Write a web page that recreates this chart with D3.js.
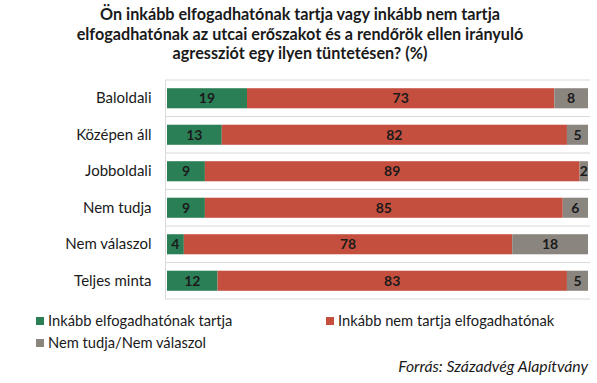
<!DOCTYPE html>
<html><head><meta charset="utf-8">
<script src="https://cdn.jsdelivr.net/npm/d3@7"></script>
<style>body{margin:0;background:#fff;} svg{display:block;}</style>
</head><body>
<svg id="c" width="597" height="383"></svg>
<script>
const categories = ["Baloldali","Középen áll","Jobboldali","Nem tudja","Nem válaszol","Teljes minta"];
const accept = [19,13,9,9,4,12];
const reject = [73,82,89,85,78,83];
const unknown = [8,5,2,6,18,5];
const seriesNames = ["Inkább elfogadhatónak tartja","Inkább nem tartja elfogadhatónak","Nem tudja/Nem válaszol"];
const colors = ["#2b7f57","#c54f3e","#8b8580"];
const titleLines = ["Ön inkább elfogadhatónak tartja vagy inkább nem tartja","elfogadhatónak az utcai erőszakot és a rendőrök ellen irányuló","agressziót egy ilyen tüntetésen? (%)"];
const source = "Forrás: Századvég Alapítvány";

const font = "Lato, 'Open Sans', sans-serif";
const svg = d3.select("#c");
const x = d3.scaleLinear().domain([0,100]).range([167,588]);
const y = d3.scaleBand().domain(categories).range([80,299]).paddingInner(0.45).paddingOuter(0.225);

// title
svg.append("g").selectAll("text").data(titleLines).join("text")
  .attr("x",300).attr("y",(d,i)=>20+i*19.5).attr("text-anchor","middle")
  .attr("font-family",font).attr("font-weight","bold").attr("font-size",16.2).attr("fill","#1a1a1a").text(d=>d);

// gridlines at band boundaries
const bounds = categories.map(c=>y(c)-y.step()*y.paddingInner()/2);
bounds.push(y(categories[categories.length-1])+y.bandwidth()+y.step()*y.paddingInner()/2);
svg.append("g").selectAll("line").data(bounds).join("line")
  .attr("x1",165).attr("x2",590).attr("y1",d=>d).attr("y2",d=>d)
  .attr("stroke","#d9d9d9").attr("stroke-width",1);

const data = categories.map((c,i)=>({cat:c, accept:accept[i], reject:reject[i], unknown:unknown[i]}));
const stack = d3.stack().keys(["accept","reject","unknown"])(data);

const g = svg.append("g");
stack.forEach((s,si)=>{
  g.append("g").selectAll("rect").data(s).join("rect")
    .attr("x",d=>x(d[0])).attr("width",d=>x(d[1])-x(d[0]))
    .attr("y",d=>y(d.data.cat)).attr("height",y.bandwidth())
    .attr("fill",colors[si]);
  g.append("g").selectAll("text").data(s).join("text")
    .attr("x",d=>(x(d[0])+x(d[1]))/2).attr("y",d=>y(d.data.cat)+y.bandwidth()/2)
    .attr("dy","0.36em").attr("text-anchor","middle")
    .attr("font-family",font).attr("font-weight","bold").attr("font-size",14).attr("fill","#1a1a1a")
    .text(d=>d[1]-d[0]);
});

// y axis
const yAxis = svg.append("g").attr("transform","translate(165.5,0)")
  .call(d3.axisLeft(y).tickSize(0).tickPadding(14));
yAxis.select(".domain").attr("stroke","#d9d9d9").attr("d","M0,80V299");
yAxis.selectAll("text").attr("font-family",font).attr("font-size",15).attr("fill","#1a1a1a");

// legend
const legPos = [[36,321],[326,321],[36,343]];
const leg = svg.append("g").selectAll("g").data(seriesNames).join("g")
  .attr("transform",(d,i)=>`translate(${legPos[i][0]},${legPos[i][1]})`);
leg.append("rect").attr("x",0).attr("y",-4).attr("width",8).attr("height",8).attr("fill",(d,i)=>colors[i]);
leg.append("text").attr("x",12).attr("y",0).attr("dy","0.36em")
  .attr("font-family",font).attr("font-size",14.7).attr("fill","#1a1a1a").text(d=>d);

svg.append("text").attr("x",588).attr("y",372).attr("text-anchor","end")
  .attr("font-family",font).attr("font-style","italic").attr("font-size",15.8).attr("fill","#1a1a1a").text(source);
</script>
</body></html>
